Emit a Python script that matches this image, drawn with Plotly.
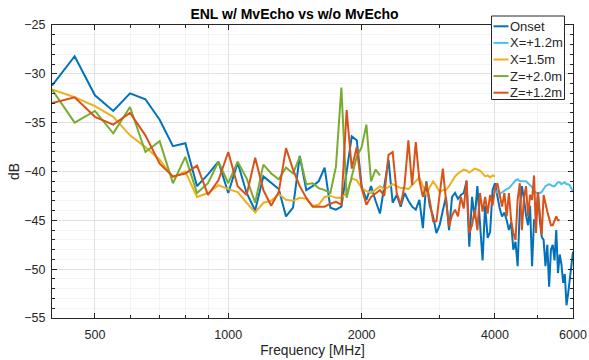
import plotly.graph_objects as go

# ---------------- data ----------------
freq_mhz = [400, 450, 500, 550, 600, 650, 700, 750, 800, 850, 900, 950,
            1000, 1050, 1100, 1150, 1200, 1250, 1300, 1350, 1400, 1450,
            1500, 1550, 1600, 1650, 1700, 1750, 1800, 1850, 1900, 1950,
            2000, 2050, 2100, 2150, 2200, 2250, 2300, 2350, 2400, 2450,
            2500, 2550, 2600, 2650, 2700, 2750, 2800, 2850, 2900, 2950,
            3000, 3050, 3100, 3150, 3200, 3250, 3300, 3350, 3400, 3450,
            3500, 3550, 3600, 3650, 3700, 3750, 3800, 3850, 3900, 3950,
            4000, 4050, 4100, 4150, 4200, 4250, 4300, 4350, 4400, 4450,
            4500, 4550, 4600, 4650, 4700, 4750, 4800, 4850, 4900, 4950,
            5000, 5050, 5100, 5150, 5200, 5250, 5300, 5350, 5400, 5450,
            5500, 5550, 5600, 5650, 5700, 5750, 5800, 5850, 5900, 5950, 6000]

onset = [-31.2, -28.2, -32.2, -33.8, -32.0, -32.6, -34.7, -37.4, -37.1, -41.5, -40.3, -39.0,
         -42.2, -39.1, -42.2, -44.0, -40.5, -41.2, -41.8, -44.6, -43.7, -38.4, -41.9, -41.5,
         -41.0, -39.6, -43.7, -43.9, -43.6, -40.0, -36.4, -36.8,
         -41.5, -42.9, -41.5, -43.0, -44.3, -41.5, -38.8, -43.2, -42.4, -43.6, -42.2, -43.0,
         -43.6, -43.9, -42.9, -45.8, -41.0, -43.5, -44.6, -46.3,
         -45.5, -44.0, -42.6, -46.0, -42.6, -42.2, -42.8, -42.4, -42.2, -41.0, -47.7, -42.6,
         -44.8, -41.5, -45.0, -49.1, -43.5, -46.8, -46.2, -41.9,
         -41.2, -42.5, -43.8, -44.6, -44.2, -45.0, -46.0, -45.2, -48.0, -47.2, -49.7, -43.9,
         -41.5, -42.8, -44.5, -45.5, -43.5, -49.7, -45.0, -45.0,
         -42.2, -45.0, -46.7, -47.0, -49.7, -47.5, -51.8, -48.0, -47.5, -49.1, -46.0, -50.4,
         -48.5, -49.5, -51.4, -50.5, -53.7, -52.5, -51.0, -49.1, -48.2]

x_p12_start = 4000
x_p12 = [-41.9, -42.2, -42.3, -42.1, -42.0, -41.8, -41.7, -41.5, -41.2, -40.9, -40.8,
         -41.0, -41.0, -41.0, -41.0, -41.2, -41.4, -41.6, -42.0, -42.2, -42.3, -42.2,
         -42.1, -41.8, -41.5, -41.4, -41.3, -41.4, -41.5, -41.5, -41.3, -41.1, -41.1,
         -41.3, -41.2, -41.1, -41.3, -41.3, -41.4, -41.7, -42.1]

x_15 = [-31.6, -32.4, -33.3, -34.4, -36.3, -37.5, -38.8, -40.6, -40.0, -42.6, -42.2, -41.4,
        -41.8, -42.1, -43.2, -44.2, -43.2, -43.0, -42.3, -42.9, -43.0, -42.7, -42.8, -43.5,
        -43.4, -42.6, -42.5, -42.7, -42.7, -42.2, -40.7, -40.9,
        -41.7, -42.0, -42.2, -41.8, -41.5, -41.8, -41.6, -41.3, -41.5, -41.7, -41.7, -41.8,
        -41.4, -41.0, -40.6, -41.5, -42.4, -41.6, -41.0, -41.5,
        -42.1, -41.9, -41.9, -41.5, -41.0, -40.5, -40.2, -40.0, -39.8, -39.9, -40.1, -39.9,
        -39.7, -39.8, -39.9, -40.2, -40.5, -40.4, -40.6, -40.4, -40.5]

z_p20 = [-31.6, -35.0, -33.8, -36.1, -33.4, -38.0, -36.9, -41.2, -38.5, -42.2, -41.2, -39.0,
         -41.2, -39.0, -40.7, -43.2, -39.3, -40.2, -40.8, -39.6, -40.2, -38.5, -41.3, -41.2,
         -41.7, -41.9, -42.2, -39.5, -31.4, -42.7, -40.5, -38.5,
         -37.5, -35.2, -41.0, -39.8, -40.4]

z_p12 = [-33.0, -32.4, -34.4, -35.2, -34.0, -36.3, -39.2, -40.5, -40.2, -39.4, -42.4, -40.9,
         -38.0, -41.5, -42.4, -38.6, -41.9, -43.5, -42.1, -37.6, -39.8, -41.5, -42.7, -43.6,
         -43.6, -43.6, -43.3, -43.1, -43.4, -33.7, -39.7, -37.5,
         -41.7, -43.4, -42.6, -42.2, -41.9, -42.5, -38.3, -38.0, -42.2, -43.4, -41.4, -36.8,
         -41.4, -37.0, -40.9, -42.6, -41.2, -43.0, -45.1, -45.1,
         -42.4, -39.7, -42.9, -45.6, -44.5, -43.9, -44.6, -42.6, -43.8, -40.9, -46.3, -45.5,
         -43.9, -46.0, -42.2, -44.1, -42.6, -44.3, -42.4, -43.5,
         -41.7, -41.2, -42.4, -43.6, -42.2, -44.6, -42.2, -45.0, -46.3, -47.0, -42.9, -41.2,
         -46.0, -42.7, -41.5, -44.6, -42.4, -42.9, -40.4, -46.3,
         -42.1, -44.4, -46.5, -42.4, -43.4, -44.1, -44.8, -45.5, -45.5, -45.0, -44.6, -45.0, -45.0]

series_names = ["Onset", "X=+1.2m", "X=1.5m", "Z=+2.0m", "Z=+1.2m"]
series_values = [onset, x_p12, x_15, z_p20, z_p12]
series_start = [400, x_p12_start, 400, 400, 400]
series_colors = ["#0072BD", "#4DBEEE", "#EDB120", "#77AC30", "#D95319"]

x_tickvals = [500, 1000, 2000, 4000, 6000]
x_minor_vals = [600, 700, 800, 900, 3000, 5000]
y_tickvals = [-55, -50, -45, -40, -35, -30, -25]

# ---------------- layout geometry ----------------
W, H = 589, 360
PL, PR, PT, PB = 52, 573, 25, 318
FONT = "Liberation Sans, Arial, Helvetica, sans-serif"
AX = "#262626"


def pxx(px):
    return (px - PL) / (PR - PL)


def pxy(py):
    return (PB - py) / (PB - PT)


fig = go.Figure()
for name, vals, start, col in zip(series_names, series_values, series_start, series_colors):
    i0 = freq_mhz.index(start)
    fig.add_trace(go.Scatter(
        x=freq_mhz[i0:i0 + len(vals)], y=vals, mode="lines", name=name,
        line=dict(color=col, width=2), showlegend=False))

common_axis = dict(
    showline=True, linecolor=AX, linewidth=1, mirror="allticks",
    ticks="inside", ticklen=5, tickcolor=AX, tickwidth=1,
    showgrid=True, gridcolor="#e1e1e1", gridwidth=1, zeroline=False,
    tickfont=dict(family=FONT, size=12.5, color=AX), automargin=False,
)

fig.update_xaxes(
    type="log", range=[2.60206, 3.7781513 + 1e-7],
    tickmode="array", tickvals=x_tickvals, ticktext=[str(v) for v in x_tickvals],
    minor=dict(tickmode="array", tickvals=x_minor_vals, ticks="inside", ticklen=3,
               tickcolor=AX, showgrid=True, gridcolor="#f3f3f3"),
    title=dict(text="Frequency [MHz]", font=dict(family=FONT, size=13.75, color=AX), standoff=4),
    ticklabelstandoff=5,
    **common_axis)

fig.update_yaxes(
    range=[-55, -25], tickmode="array", tickvals=y_tickvals,
    minor=dict(dtick=1, ticks="inside", ticklen=3, tickcolor=AX,
               showgrid=True, gridcolor="#f3f3f3"),
    title=dict(text="dB", font=dict(family=FONT, size=13.75, color=AX), standoff=1),
    ticklabelstandoff=3,
    **common_axis)

# legend (drawn as box + samples + labels)
shapes = [dict(type="rect", xref="paper", yref="paper", layer="above",
               x0=pxx(491.5), x1=pxx(564.5), y0=pxy(99.5), y1=pxy(16),
               line=dict(color=AX, width=1), fillcolor="white")]
annotations = []
row0, rowstep = 26.3, 16.6
for i, (name, col) in enumerate(zip(series_names, series_colors)):
    ry = row0 + i * rowstep
    shapes.append(dict(type="line", xref="paper", yref="paper", layer="above",
                       x0=pxx(493.5), x1=pxx(508.5), y0=pxy(ry), y1=pxy(ry),
                       line=dict(color=col, width=2)))
    annotations.append(dict(xref="paper", yref="paper", x=pxx(507.5), y=pxy(ry),
                            xanchor="left", yanchor="middle", showarrow=False,
                            text=name, font=dict(family=FONT, size=13, color=AX)))

fig.update_layout(
    width=W, height=H,
    margin=dict(l=PL, r=W - PR, t=PT, b=H - PB, pad=0, autoexpand=False),
    paper_bgcolor="white", plot_bgcolor="white",
    title=dict(text="<b>ENL w/ MvEcho vs w/o MvEcho</b>", x=pxx(312.5), xanchor="center",
               y=1 - 14 / H, yanchor="middle",
               font=dict(family=FONT, size=14, color="black")),
    shapes=shapes, annotations=annotations, showlegend=False,
)

fig.write_html("out.html")
